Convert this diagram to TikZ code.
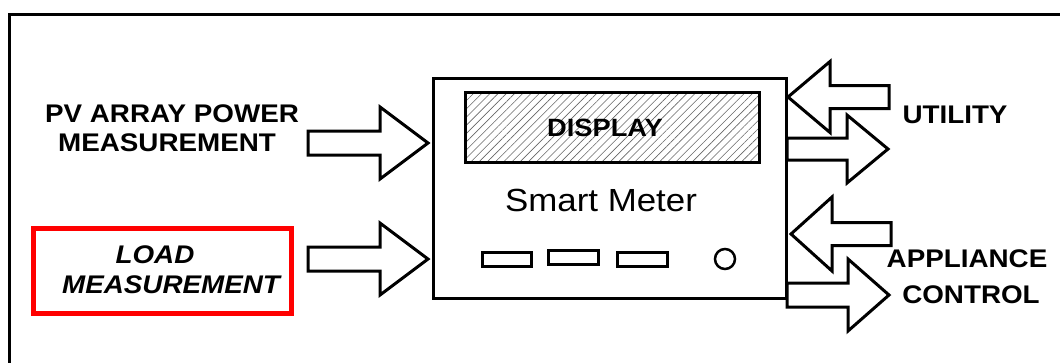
\documentclass[tikz,border=0pt]{standalone}
\usepackage{fontspec}
\setmainfont{Liberation Sans}
\usepackage{graphicx}
\usetikzlibrary{patterns.meta}
\newcommand{\stretchtxt}[1]{\scalebox{1.09}[1]{#1}}
% tail x, tip x, centre y, head-base x, shaft half width, head half width
\newcommand{\blockarr}[6]{\draw[blockarrow] (#1,#3-#5) -- (#4,#3-#5) -- (#4,#3-#6) -- (#2,#3) -- (#4,#3+#6) -- (#4,#3+#5) -- (#1,#3+#5) -- cycle;}
\begin{document}
\begin{tikzpicture}[x=1pt,y=-1pt,line join=miter,
  thickline/.style={line width=3pt},
  box/.style={draw=black,line width=3pt,inner sep=0pt,outer sep=0pt},
  blockarrow/.style={draw=black,fill=white,line width=3pt},
  lbl/.style={font=\fontsize{25.5}{25.5}\selectfont\bfseries,inner sep=0pt,anchor=base},
  ilbl/.style={font=\fontsize{25.5}{25.5}\selectfont\bfseries\itshape,inner sep=0pt,anchor=base}]
\useasboundingbox (0,0) rectangle (1060,362);
% outer frame (only top and left edges visible)
\draw[thickline] (9,366) -- (9,14) -- (1064,14);
% smart meter
\node[box,minimum width=353pt,minimum height=220pt] (meter) at (609.5,188) {};
\node[box,minimum width=294pt,minimum height=70pt,
      pattern={Lines[angle=45,distance=5.8pt,line width=0.6pt]},pattern color=black!60] (display) at (612,127) {};
\node[lbl,font=\fontsize{25}{25}\selectfont\bfseries] (disptext) at (605,136) {\stretchtxt{DISPLAY}};
\node[inner sep=0pt,anchor=base,font=\fontsize{32}{32}\selectfont] (smtext) at (601,211) {\stretchtxt{Smart Meter}};
\node[box,minimum width=49pt,minimum height=14pt] (b1) at (506.5,259) {};
\node[box,minimum width=50pt,minimum height=14pt] (b2) at (573,257) {};
\node[box,minimum width=50pt,minimum height=14pt] (b3) at (642,259) {};
\node[draw=black,line width=2.5pt,circle,minimum size=20pt,inner sep=0pt] (knob) at (725,259) {};
% left labels
\node[lbl] (pv1) at (172,122) {\stretchtxt{PV ARRAY POWER}};
\node[lbl] (pv2) at (167,151) {\stretchtxt{MEASUREMENT}};
\node[draw=red,line width=5pt,minimum width=258pt,minimum height=85pt,inner sep=0pt] (loadbox) at (162,270.5) {};
\node[ilbl] (load1) at (155,263) {\stretchtxt{LOAD}};
\node[ilbl] (load2) at (171,293) {\stretchtxt{MEASUREMENT}};
% right labels
\node[lbl] (util) at (955,123) {\stretchtxt{UTILITY}};
\node[lbl] (app1) at (967,267) {\stretchtxt{APPLIANCE}};
\node[lbl] (app2) at (971,303) {\stretchtxt{CONTROL}};
% block arrows
\blockarr{308}{428}{143}{380}{12}{36}
\blockarr{308}{428}{259}{380}{12}{36}
\blockarr{889}{788}{97}{830}{11.5}{35.5}
\blockarr{787}{888}{149}{847}{11}{34}
\blockarr{891}{791}{234}{832}{11.5}{37}
\blockarr{787}{889}{295}{848}{12}{36}
\end{tikzpicture}
\end{document}
